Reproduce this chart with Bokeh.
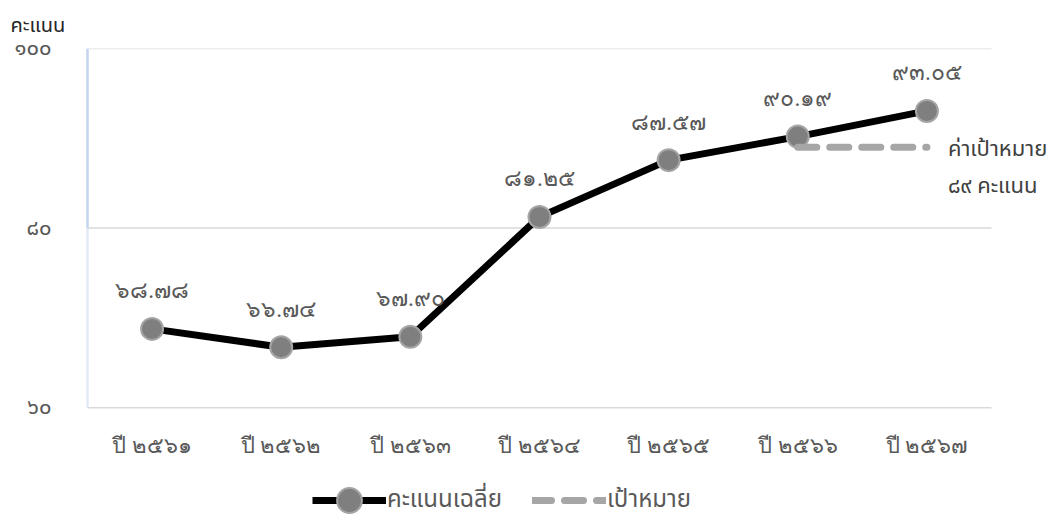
from bokeh.plotting import figure
from bokeh.models import Range1d, FixedTicker, Legend, LegendItem, LabelSet, Label, ColumnDataSource
from bokeh.embed import file_html
from bokeh.resources import INLINE

# ---- data ----
categories = ["ปี ๒๕๖๑", "ปี ๒๕๖๒", "ปี ๒๕๖๓", "ปี ๒๕๖๔", "ปี ๒๕๖๕", "ปี ๒๕๖๖", "ปี ๒๕๖๗"]
scores = [68.78, 66.74, 67.90, 81.25, 87.57, 90.19, 93.05]
score_labels = ["๖๘.๗๘", "๖๖.๗๔", "๖๗.๙๐", "๘๑.๒๕", "๘๗.๕๗", "๙๐.๑๙", "๙๓.๐๕"]
target_idx = [5, 6]
target_values = [89, 89]
y_ticks = [60, 80, 100]
y_tick_labels = ["๖๐", "๘๐", "๑๐๐"]
series_names = ["คะแนนเฉลี่ย", "เป้าหมาย"]
axis_title = "คะแนน"
target_text = ["ค่าเป้าหมาย", "๘๙ คะแนน"]

FONT = "Noto Sans Thai"
TXT = "#595959"

W, H = 1050, 520
LEFT, TOP = 84, 47
band_px = 129.14            # pixel width of one category band
unit_px = 360 / (y_ticks[-1] - y_ticks[0])   # pixels per score point
n = len(categories)
x_start = -0.5 - 3 / band_px
x_end = x_start + (W - LEFT) / band_px
y_end = y_ticks[-1]
y_start = y_end - (H - TOP) / unit_px
xs = list(range(n))

p = figure(width=W, height=H, output_backend="svg", toolbar_location=None,
           x_range=Range1d(x_start, x_end), y_range=Range1d(y_start, y_end),
           min_border_left=LEFT, min_border_right=0, min_border_top=TOP, min_border_bottom=0)
p.outline_line_color = None
p.title.text = axis_title
p.title.align = "left"
p.title.offset = -(LEFT - 10)
p.title.standoff = 16
p.title.text_font = FONT
p.title.text_font_size = "20px"
p.title.text_font_style = "normal"
p.title.text_color = "#262626"

p.xaxis.visible = False
p.yaxis.ticker = FixedTicker(ticks=y_ticks)
p.yaxis.major_label_overrides = {t: l for t, l in zip(y_ticks, y_tick_labels)}
p.yaxis.major_tick_line_color = None
p.yaxis.minor_tick_line_color = None
p.yaxis.axis_line_color = None
p.yaxis.major_label_standoff = 27
p.yaxis.major_label_text_font = FONT
p.yaxis.major_label_text_font_size = "22px"
p.yaxis.major_label_text_color = TXT
p.xgrid.grid_line_color = None
p.ygrid.grid_line_color = None

# value axis line (light blue, fading downwards) and horizontal gridlines
p.segment(x0=[-0.5, -0.5], x1=[-0.5, -0.5], y0=[y_ticks[1], y_ticks[0]], y1=[y_ticks[2], y_ticks[1]],
          line_color=["#c3d5ee", "#e2eaf6"], line_width=2.5)
p.segment(x0=[-0.5] * len(y_ticks), x1=[n - 0.5] * len(y_ticks), y0=y_ticks, y1=y_ticks,
          line_color="#d9d9d9", line_width=1.5)

# category labels
cat_src = ColumnDataSource(dict(x=xs, y=[y_ticks[0]] * n, lab=categories))
p.add_layout(LabelSet(x="x", y="y", text="lab", source=cat_src, y_offset=-38,
                      text_align="center", text_baseline="middle",
                      text_font=FONT, text_font_size="22px", text_color=TXT))

src = ColumnDataSource(dict(x=xs, y=scores, lab=score_labels))
main_line = p.line("x", "y", source=src, line_color="black", line_width=7)
main_pts = p.scatter("x", "y", source=src, size=22, fill_color="#7f7f7f",
                     line_color="#a5a5a5", line_width=2)
tgt = p.line(target_idx, target_values, line_color="#a6a6a6", line_width=7,
             line_dash="19 13", line_cap="round")

p.add_layout(LabelSet(x="x", y="y", text="lab", source=src, y_offset=38,
                      text_align="center", text_baseline="middle",
                      text_font=FONT, text_font_size="23px", text_color=TXT))

p.add_layout(Label(x=target_idx[-1], y=target_values[-1], x_offset=21, y_offset=-2,
                   text=target_text[0], text_align="left", text_baseline="middle",
                   text_font=FONT, text_font_size="22px", text_color="#404040"))
p.add_layout(Label(x=target_idx[-1], y=target_values[-1], x_offset=21, y_offset=-39,
                   text=target_text[1], text_align="left", text_baseline="middle",
                   text_font=FONT, text_font_size="22px", text_color="#404040"))

legend = Legend(items=[LegendItem(label=series_names[0], renderers=[main_line, main_pts]),
                       LegendItem(label=series_names[1], renderers=[tgt])],
                orientation="horizontal", location=(228, -11),
                glyph_width=74, glyph_height=62, label_standoff=1, spacing=30,
                padding=0, margin=0, border_line_color=None,
                background_fill_alpha=0,
                label_text_font=FONT, label_text_font_size="24px",
                label_text_color=TXT)
p.add_layout(legend)

open("out.html", "w").write(file_html(p, INLINE))
